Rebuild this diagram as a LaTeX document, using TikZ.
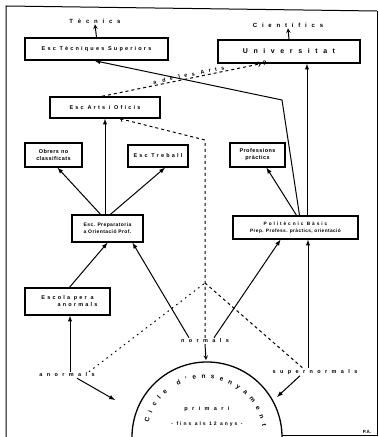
\documentclass[tikz,border=0pt]{standalone}
\usepackage{fontspec}
\setmainfont{Liberation Sans}
\newfontfamily\wide[LetterSpace=40]{Liberation Sans}
\newfontfamily\narrow[LetterSpace=8]{Liberation Sans}
\newfontfamily\wider[LetterSpace=80]{Liberation Sans}
\usetikzlibrary{arrows,positioning,calc,decorations.text}

\begin{document}
\begin{tikzpicture}[x=1pt,y=1pt,
    box/.style={draw, line width=1.4pt, inner sep=0pt, align=center, font=\wide\bfseries\fontsize{5.5}{7}\selectfont},
    lbl/.style={inner sep=1pt, font=\wider\bfseries\fontsize{5.5}{6.5}\selectfont},
    conn/.style={line width=1pt, -latex},
    dashconn/.style={line width=1pt, dash pattern=on 3pt off 3pt}]
    \useasboundingbox (0,0) rectangle (379,437);

    % Frame
    \draw[line width=1pt] (6,0) -- (6,431) -- (377,426);
    \draw[line width=0.6pt] (377,426) -- (377,2) -- (282,2);

    % Top: destinations
    \node[lbl, font=\wider\bfseries\fontsize{6}{7}\selectfont] (tecnics) at (95,416) {Tècnics};
    \node[lbl, font=\wider\bfseries\fontsize{6}{7}\selectfont] (cientifics) at (288,412) {Científics};
    \node[box, minimum width=143, minimum height=22] (tecsup) at (96.5,388) {Esc Tècniques Superiors};
    \node[box, minimum width=142, minimum height=23, font=\wider\bfseries\fontsize{7}{8}\selectfont] (univ) at (289,385.5) {Universitat};

    % Middle boxes
    \node[box, minimum width=110, minimum height=21] (arts) at (105,329.5) {Esc Arts i Oficis};
    \node[box, minimum width=57, minimum height=24, font=\narrow\bfseries\fontsize{5.5}{7}\selectfont] (obrers) at (53.5,282) {Obrers no\\classificats};
    \node[box, minimum width=60, minimum height=22] (treball) at (158,281) {Esc Treball};
    \node[box, minimum width=55, minimum height=24, font=\narrow\bfseries\fontsize{5.5}{7}\selectfont] (profes) at (257.5,282) {Professions\\pràctics};
    \node[box, minimum width=71, minimum height=27, font=\narrow\bfseries\fontsize{5}{7}\selectfont] (prep) at (107.5,208.5) {Esc. Preparatoria\\a Orientació Prof.};
    \node[box, minimum width=125, minimum height=23, font=\narrow\bfseries\fontsize{4.8}{7}\selectfont] (poli) at (295.5,209.5) {{\wide Politècnic Bàsic}\\Prep. Profess. pràctics, orientació};
    \node[box, minimum width=85, minimum height=27] (escanor) at (67.5,135.5) {Escola per a\\\hspace*{20pt}anormals};

    % Pupils
    \node[lbl] (normals) at (205,96) {normals};
    \node[lbl] (anormals) at (67,62) {anormals};
    \node[lbl] (supernormals) at (315,65) {supernormals};
    \node[lbl, font=\bfseries\fontsize{4.5}{5}\selectfont] (pa) at (367,5) {P.A.};

    % Primary cycle
    \draw[line width=1.3pt] (132,0) arc (180:0:75);
    \path[decorate, decoration={text along path, text align={fit to path},
        text={|\bfseries\fontsize{6.5}{7}\selectfont|Cicle d'ensenyament}}]
        (207,0) ++(166:60) arc (166:10:58);
    \node[lbl] (primari) at (207,28) {primari};
    \node[lbl, font=\wide\bfseries\fontsize{5}{6}\selectfont] (fins) at (207,13) {- fins als 12 anys -};

    \coordinate (ctop) at (206,77);
    \coordinate (cleft) at (115,37);
    \coordinate (cright) at (277,40);
    \coordinate (bend) at (282,337);
    \coordinate (dtop) at (205,297);
    \coordinate (apex) at (205,154);

    % Connectors
    \draw[conn, -stealth] (tecsup.north) -- (tecnics.south);
    \draw[conn, -stealth] (univ.north) -- (cientifics.south);
    \draw[conn] ([xshift=11.5pt]poli.north) -- ([xshift=18pt]univ.south);
    \draw[conn] ([xshift=4pt]poli.north) -- (bend) -- ([xshift=-2pt]tecsup.south);
    \draw[dashconn, ->] ([xshift=-3pt]arts.north) -- node[sloped, above, pos=0.55, lbl] {a de les Arts} ([xshift=-28pt]univ.south)
        node[right=0pt, lbl, font=\bfseries\fontsize{6.5}{7}\selectfont] {?};
    \draw[dashconn, ->] (normals.north) -- (dtop) -- ([xshift=15pt]arts.south);
    \draw[conn] ([xshift=-2.5pt]prep.north) -- (arts.south);
    \draw[conn] ([xshift=-7pt]prep.north) -- ([xshift=4pt]obrers.south);
    \draw[conn] ([xshift=3pt]prep.north) -- ([xshift=7pt]treball.south);
    \draw[conn] ([xshift=1pt]poli.north) -- ([xshift=9pt]profes.south);
    \draw[conn] ([xshift=2pt]escanor.north) -- (prep.south);
    \draw[conn] ([xshift=-16pt]normals.north) -- ([xshift=25pt]prep.south);
    \draw[conn] ([xshift=9pt]normals.north) -- ([xshift=-15pt]poli.south);
    \draw[conn] ([xshift=-7pt]supernormals.north) -- ([xshift=12.5pt]poli.south);
    \draw[conn] ([xshift=3pt]anormals.north) -- ([xshift=2.5pt]escanor.south);
    \draw[dashconn, dash pattern=on 1.5pt off 4pt] ([xshift=22pt]anormals.north) -- (apex);
    \draw[dashconn] (apex) -- ([xshift=-12pt]supernormals.north);
    \draw[conn] ([xshift=10pt]anormals.south) -- (cleft);
    \draw[conn] ([xshift=-15pt]supernormals.south) -- (cright);
    \draw[conn, -stealth] (normals.south) -- (ctop);
\end{tikzpicture}
\end{document}
